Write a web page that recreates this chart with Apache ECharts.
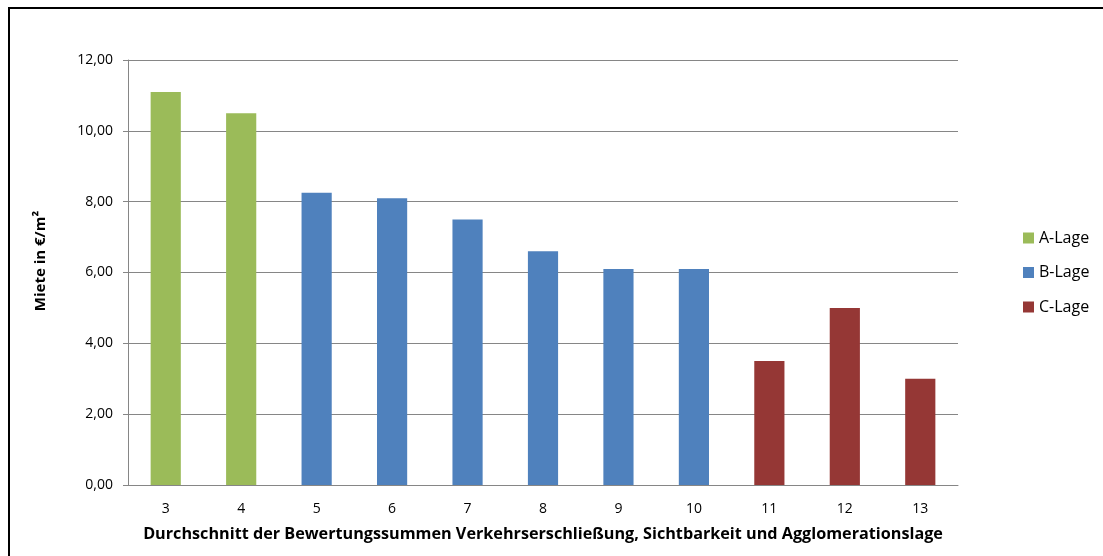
<!DOCTYPE html>
<html>
<head>
<meta charset="utf-8">
<script src="https://cdn.jsdelivr.net/npm/echarts@6/dist/echarts.min.js"></script>
<style>
  html, body { margin: 0; padding: 0; background: #fff; }
  #chart { width: 1103px; height: 556px; }
</style>
</head>
<body>
<div id="chart"></div>
<script>
// Bewertungssumme (Kategorie) und durchschnittliche Miete in €/m²
const categories = ['3', '4', '5', '6', '7', '8', '9', '10', '11', '12', '13'];
const rents = [11.1, 10.5, 8.25, 8.1, 7.5, 6.6, 6.1, 6.1, 3.5, 5.0, 3.0];
const lageOfCategory = ['A-Lage', 'A-Lage', 'B-Lage', 'B-Lage', 'B-Lage', 'B-Lage', 'B-Lage', 'B-Lage', 'C-Lage', 'C-Lage', 'C-Lage'];
const lagen = ['A-Lage', 'B-Lage', 'C-Lage'];
const lageColors = ['#9BBB59', '#4F81BD', '#953735'];

const font = '"Open Sans", "DejaVu Sans", sans-serif';

// one series per Lage, stacked so each bar stays centred on its category
const series = lagen.map((lage, i) => ({
  name: lage,
  type: 'bar',
  stack: 'lage',
  barWidth: '40%',
  itemStyle: { color: lageColors[i] },
  data: rents.map((v, j) => (lageOfCategory[j] === lage ? v : null))
}));

const chart = echarts.init(document.getElementById('chart'), null, { renderer: 'canvas' });
chart.setOption({
  animation: false,
  backgroundColor: '#fff',
  graphic: [
    {
      type: 'rect',
      shape: { x: 9, y: 8, width: 1200, height: 600 },
      style: { fill: 'none', stroke: '#000', lineWidth: 2 },
      silent: true
    },
    {
      type: 'text',
      x: 41,
      y: 261,
      rotation: Math.PI / 2,
      style: {
        text: 'Miete in €/m²',
        fontFamily: font,
        fontSize: 15,
        fontWeight: 'bold',
        fill: '#000',
        align: 'center',
        verticalAlign: 'middle'
      },
      silent: true
    }
  ],
  grid: { left: 128, right: 145, top: 60, bottom: 71 },
  legend: {
    orient: 'vertical',
    left: 1018,
    top: 225,
    itemGap: 18.5,
    itemWidth: 11,
    itemHeight: 11,
    icon: 'rect',
    textStyle: { fontFamily: font, fontSize: 16, lineHeight: 16, color: '#000' },
    data: lagen
  },
  xAxis: {
    type: 'category',
    data: categories,
    name: 'Durchschnitt der Bewertungssummen Verkehrserschließung, Sichtbarkeit und Agglomerationslage',
    nameLocation: 'middle',
    nameGap: 41,
    nameTextStyle: { fontFamily: font, fontSize: 16.2, fontWeight: 'bold', color: '#000' },
    axisLine: { lineStyle: { color: '#868686', width: 1 } },
    axisTick: { show: false },
    axisLabel: { fontFamily: font, fontSize: 14, color: '#000', margin: 17 }
  },
  yAxis: {
    type: 'value',
    min: 0,
    max: 12,
    interval: 2,
    axisLine: { show: true, lineStyle: { color: '#868686', width: 1 } },
    axisTick: { show: true, length: 5, lineStyle: { color: '#868686' } },
    splitLine: { lineStyle: { color: '#868686', width: 1 } },
    axisLabel: {
      fontFamily: font, fontSize: 14, color: '#000', margin: 15,
      formatter: v => v.toFixed(2).replace('.', ',')
    }
  },
  series: series
});
</script>
</body>
</html>
